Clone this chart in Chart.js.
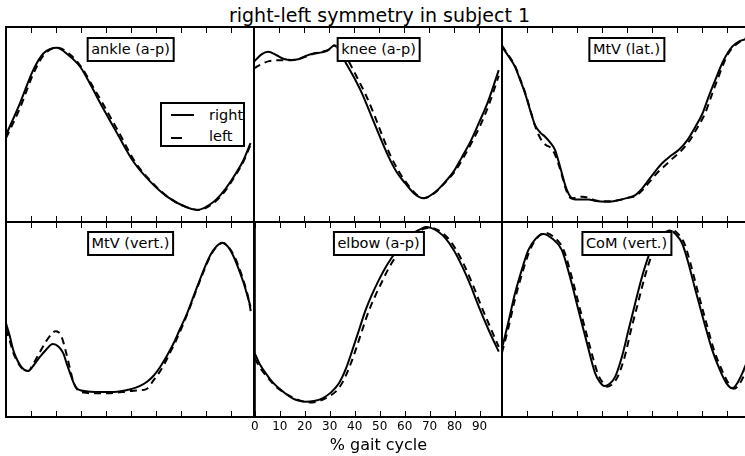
<!DOCTYPE html>
<html>
<head>
<meta charset="utf-8">
<script src="https://cdn.jsdelivr.net/npm/chart.js@4.4.1/dist/chart.umd.min.js"></script>
<style>
  html, body { margin: 0; padding: 0; background: #fff; overflow: hidden; }
  #fig { position: relative; width: 745px; height: 456px; overflow: hidden; background: #fff;
         font-family: "DejaVu Sans", sans-serif; color: #000; }
  canvas { position: absolute; }
  .title { position: absolute; top: 4px; left: 379.5px; transform: translateX(-50%);
           font-size: 19px; line-height: 22px; white-space: nowrap; }
  .tag { position: absolute; transform: translateX(-50%); background: #fff; border: 2px solid #000;
         font-size: 14.5px; line-height: 17px; padding: 2px 3px; white-space: nowrap; z-index: 5; }
  .legend { position: absolute; left: 160px; top: 102px; width: 81px; height: 41px;
            border: 2px solid #000; background: #fff; z-index: 5; font-size: 14.5px; }
  .legend .txt { position: absolute; left: 47px; line-height: 17px; white-space: nowrap; }
  .legend .smp { position: absolute; left: 9px; height: 0; border-top: 2px solid #000; }
</style>
</head>
<body>
<div id="fig">
  <div class="title">right-left symmetry in subject 1</div>
</div>
<script>
// x positions of the tick marks (percent of the gait cycle)
const xTicks = [0, 10, 20, 30, 40, 50, 60, 70, 80, 90];
const xRange = [0, 99];

// panel names, in row order
const panelNames = ['ankle (a-p)', 'knee (a-p)', 'MtV (lat.)', 'MtV (vert.)', 'elbow (a-p)', 'CoM (vert.)'];
const legendLabels = ['right', 'left'];

// each series: [gait cycle %, normalised amplitude]
const ankleRight = [[0,44.6],[5.6,61],[10.9,78],[15,86.5],[20.3,89.4],[24.9,85.6],[29.6,79.6],[33.5,71],[37.6,61],[44.3,45.6],[50.9,30.9],[57.6,20.7],[64.3,13],[70.9,8.2],[76.3,6.2],[82.9,10.4],[87,16],[90.9,23.2],[94.5,31],[97.6,40.4]];
const ankleLeft  = [[0,43],[5.6,58.5],[10.9,76],[15,85.5],[20.5,89.4],[25,86.5],[30,79.6],[34,71],[38.5,61],[45.2,45.6],[51.5,30.9],[58,20.7],[64.5,13],[71,8.2],[77,6.2],[83.5,10.4],[87.5,16],[91.2,23.2],[94.8,31],[97.6,39.5]];

const kneeRight = [[0,82.2],[3,86],[5.7,87.3],[9,85.5],[12,83.6],[15.1,83.1],[18,83.6],[21,85.3],[24.4,86.5],[27,87],[29.7,88.2],[32,90.5],[34,88],[36.4,82.2],[40,74],[43.1,66],[46.5,55.5],[49.7,45.5],[53.7,33.5],[57,25.5],[60.4,19.8],[64,14.5],[67.7,12.2],[72,15],[76.4,20.7],[80,26.5],[83.1,33.5],[86.5,41.5],[89.7,50.6],[93.5,62],[97.7,77.9]];
const kneeLeft  = [[0,78.8],[3,81],[6,82.5],[10,83],[15.1,83],[18,83.6],[21,85],[24.4,86.5],[27,87.2],[29.7,88.3],[32,90.5],[34.5,89],[37.5,83],[41,74.5],[44.5,65.5],[48,55],[51,45],[54.5,34],[58,25.5],[61,19.8],[64.5,14.5],[68,12.2],[72,14.8],[76.5,20.5],[80.5,26.5],[83.8,33.5],[87.2,41.5],[90.5,50],[94,61],[97.7,75]];

const mtvLatRight = [[0,89.9],[2.6,85],[5.2,79.6],[7.2,73],[9.2,66],[11.2,57.5],[13.2,49.7],[15.2,46],[17.2,43.7],[19.2,40.8],[21.2,36.9],[22.6,31],[23.9,25],[25.2,19],[26.5,14.7],[27.8,12.3],[29.2,11.6],[34.5,11.6],[37.5,10.8],[41.2,10.4],[44.5,10.7],[47.9,11.6],[50.5,12.5],[53.2,13.8],[55.8,17],[58.5,21.5],[61.2,26],[63.9,30.1],[67.2,33.8],[70.5,36.9],[74,42],[77.2,48.9],[80,55.5],[82.5,64.3],[85.2,73],[87.9,81.4],[90,86.5],[91.9,89.9],[94.5,92.5],[97.2,93.7],[99,94]];
const mtvLatLeft  = [[0,90.5],[2.6,85.5],[5.2,80],[7.2,73.5],[9.2,66.5],[11.2,58],[13,50],[14.5,45],[16,41.5],[17.5,39.5],[19.5,38],[21,35],[22.6,29.5],[23.9,24],[25.2,18],[26.5,13.7],[27.8,12],[29.5,12.5],[32,13],[34.5,12.5],[37.5,11],[41.2,10.6],[44.5,10.7],[47.9,11.6],[50.5,12.5],[53.5,13.5],[56.5,17],[59.5,21.5],[62.2,25.5],[65,28.8],[68,32.5],[71.5,36.5],[75,42],[78.2,48.9],[81,55.5],[83.5,64.3],[86,73],[88.5,81.4],[90.5,86.8],[92.5,89.9],[95,92.5],[97.5,94.3],[99,94.5]];

const mtvVertRight = [[0,48],[1.4,42],[2.9,34.4],[4.2,30],[5.6,26.7],[7.2,24.3],[8.9,23.6],[11.2,26.8],[13.6,30.9],[16,34.5],[18.7,37.4],[21,36],[22.9,32.6],[24.2,27.5],[25.6,22.4],[27,17.5],[28.3,14.7],[30,13.6],[33.6,13],[38,12.8],[44.3,13],[47.5,13.6],[50.9,14.7],[53.5,16],[56.3,18.1],[59,21.3],[61.6,25.8],[64.3,31.5],[66.9,37.8],[69.6,45.5],[72.3,53.2],[74.9,62],[77.6,71.1],[79.6,77.5],[81.6,83.1],[84,87.5],[86.3,89.4],[88.5,87.5],[90.9,82.2],[93,75.5],[94.9,68.6],[96.3,62.5],[97.6,56.6]];
const mtvVertLeft  = [[0,45],[1.4,39.5],[2.9,33],[4.5,28.5],[6,25.5],[7.5,24],[8.9,23.6],[11,27.5],[13.4,33],[16,38.8],[18.2,42.5],[19.7,44],[21,43.5],[22.5,40],[24,33],[25.5,25],[27,17.5],[28.5,14],[31,12.5],[35,12.2],[40,12.2],[44,12.5],[47.5,13],[51,13.5],[54,13.8],[56.3,14.5],[59,19],[61,22.5],[63,26.7],[65.5,33],[67.8,39],[70.2,46],[72.6,53.5],[75.1,62],[77.8,71.1],[79.8,77.5],[81.8,83.1],[84.2,87.5],[86.5,89.2],[88.6,87.5],[91.3,82],[93.5,75],[95.5,67],[97,59.5],[97.9,52.5]];

const elbowRight = [[0,32.6],[2,27],[4.4,22.4],[7,18],[9.7,14.7],[12.5,11.8],[15.1,9.6],[17.8,8.3],[20.4,7.8],[23.7,8.2],[27.1,9.6],[30.4,12.5],[33.7,17.3],[36.4,24.5],[39.1,34.4],[41.7,44.5],[44.4,54.9],[47,63],[49.7,70.3],[52.4,76.8],[55.1,82.2],[57.7,87],[60.4,90.8],[63.7,94.5],[67.1,96.8],[68.4,97.4],[70.5,97],[73.5,95],[76.4,91.6],[79.7,85.5],[83.1,77.1],[86.4,67.5],[89.7,56.6],[93.7,44.5],[97.7,33.5]];
const elbowLeft  = [[0,30],[2.5,24.5],[5,20.5],[7.1,17.3],[10,14],[13,11.5],[16,9.5],[19.5,8],[23.1,7.5],[26.5,8.5],[29.5,10.5],[32.4,13],[35,17.5],[37.7,25],[40.4,34.4],[43,44.5],[45.7,54.5],[48.2,62],[50.8,69],[53.5,76],[56.2,81.8],[58.8,86.7],[61.5,90.8],[64.7,94.5],[68,96.6],[69.5,97.1],[71.5,96.8],[74.5,95],[77.3,91.8],[80.5,86],[84,77.5],[87.3,67.8],[90.5,57.5],[94.3,46],[97.7,36]];

const comRight = [[0,35.2],[2.6,49],[5.2,63.4],[7.9,75.5],[10.5,85.6],[13.5,91.5],[16.5,93.8],[20,91.5],[23.9,85.6],[27.2,71.5],[30.5,54.9],[33.9,38],[37.2,22.4],[39,18],[40.9,15.9],[43,17],[45.2,20.7],[47.9,31],[50.5,44.6],[53.2,58.5],[55.9,71.9],[58.5,82.5],[61.2,90.8],[64.2,94.2],[67.2,95.5],[69.5,93.5],[71.9,89.1],[74.5,78.5],[77.2,65.1],[80.5,49.5],[83.9,34.4],[87,24],[89.5,17.5],[91.9,14.7],[94,17.5],[95.9,22.4],[98,29]];
const comLeft  = [[0,33],[2.6,46],[5.2,60.5],[7.9,73],[10.8,84.5],[13.8,91.5],[17,94.5],[20.5,92.5],[24.5,86],[27.8,72],[31.2,55],[34.7,38],[38.2,22.4],[40,18],[42,15.5],[44.2,17],[46.3,21],[49,31],[51.5,44.6],[54.3,58.5],[57,71.9],[59.6,82.5],[62.3,90.8],[65.2,94.5],[67.8,96],[70.2,94],[72.7,89.3],[75.3,78.5],[78,65.1],[81.3,49.5],[84.6,34.4],[87.8,24],[90.3,17.5],[92.6,14.5],[94.8,17],[96.8,22],[98.5,28]];

const seriesPairs = [
  [ankleRight, ankleLeft], [kneeRight, kneeLeft], [mtvLatRight, mtvLatLeft],
  [mtvVertRight, mtvVertLeft], [elbowRight, elbowLeft], [comRight, comLeft]
];

// grid geometry of the 2x3 panel layout (px)
const colLeft = [6, 254, 502];
const rowTop = [27, 222];
const panelW = 248, panelH = 195;
const padX = 6, padY = 3, axisH = 38;

// frame around each panel plus inward ticks on top and bottom edges
const frameTicks = {
  id: 'frameTicks',
  afterDatasetsDraw(chart) {
    const { ctx, chartArea: a, scales: { x } } = chart;
    ctx.save();
    ctx.strokeStyle = '#000';
    ctx.lineWidth = 1;
    ctx.beginPath();
    xTicks.forEach(v => {
      const px = Math.round(x.getPixelForValue(v)) + 0.5;
      ctx.moveTo(px, a.top); ctx.lineTo(px, a.top + 6);
      ctx.moveTo(px, a.bottom); ctx.lineTo(px, a.bottom - 6);
    });
    ctx.stroke();
    ctx.lineWidth = 2;
    ctx.strokeRect(a.left, a.top, a.right - a.left, a.bottom - a.top);
    ctx.restore();
  }
};

const fig = document.getElementById('fig');
const toXY = arr => arr.map(p => ({ x: p[0], y: p[1] }));

seriesPairs.forEach((pair, i) => {
  const row = Math.floor(i / 3), col = i % 3;
  const showAxis = (row === 1 && col === 1);
  const cv = document.createElement('canvas');
  const w = panelW + 2 * padX;
  const h = panelH + 2 * padY + (showAxis ? axisH - padY : 0);
  cv.width = w; cv.height = h;
  cv.style.left = (colLeft[col] - padX) + 'px';
  cv.style.top = (rowTop[row] - padY) + 'px';
  cv.style.width = w + 'px'; cv.style.height = h + 'px';
  fig.appendChild(cv);

  new Chart(cv, {
    type: 'line',
    data: {
      datasets: [
        { label: legendLabels[0], data: toXY(pair[0]), borderColor: '#000', borderWidth: 2,
          pointRadius: 0, cubicInterpolationMode: 'monotone', fill: false },
        { label: legendLabels[1], data: toXY(pair[1]), borderColor: '#000', borderWidth: 2,
          borderDash: [7, 5], pointRadius: 0, cubicInterpolationMode: 'monotone', fill: false }
      ]
    },
    options: {
      responsive: false,
      animation: false,
      devicePixelRatio: 1,
      layout: { padding: { left: padX, right: padX, top: padY, bottom: showAxis ? 0 : padY } },
      plugins: { legend: { display: false }, tooltip: { enabled: false } },
      events: [],
      scales: {
        x: {
          type: 'linear', min: xRange[0], max: xRange[1],
          display: showAxis,
          grid: { display: false, drawTicks: false },
          border: { display: false },
          afterBuildTicks: s => { s.ticks = xTicks.map(v => ({ value: v })); },
          afterFit: s => { if (showAxis) s.height = axisH; },
          ticks: { padding: 3, maxRotation: 0, autoSkip: false, color: '#000',
                   font: { family: 'DejaVu Sans', size: 12 } },
          title: { display: showAxis, text: '% gait cycle', color: '#000',
                   padding: { top: 0, bottom: 0 }, font: { family: 'DejaVu Sans', size: 16 } }
        },
        y: { type: 'linear', min: 0, max: 100, display: false }
      }
    },
    plugins: [frameTicks]
  });

  // panel name box centred at the top of the panel
  const tag = document.createElement('div');
  tag.className = 'tag';
  tag.textContent = panelNames[i];
  tag.style.left = (colLeft[col] + panelW / 2 + 0.5) + 'px';
  tag.style.top = (rowTop[row] + (row === 0 ? 10 : 9)) + 'px';
  fig.appendChild(tag);
});

// legend inside the first panel
const lg = document.createElement('div');
lg.className = 'legend';
lg.innerHTML =
  '<div class="smp" style="top:10px;width:23px"></div>' +
  '<div class="txt" style="top:3px">' + legendLabels[0] + '</div>' +
  '<div class="smp" style="top:33px;width:11px"></div>' +
  '<div class="txt" style="top:24px">' + legendLabels[1] + '</div>';
fig.appendChild(lg);
</script>
</body>
</html>
